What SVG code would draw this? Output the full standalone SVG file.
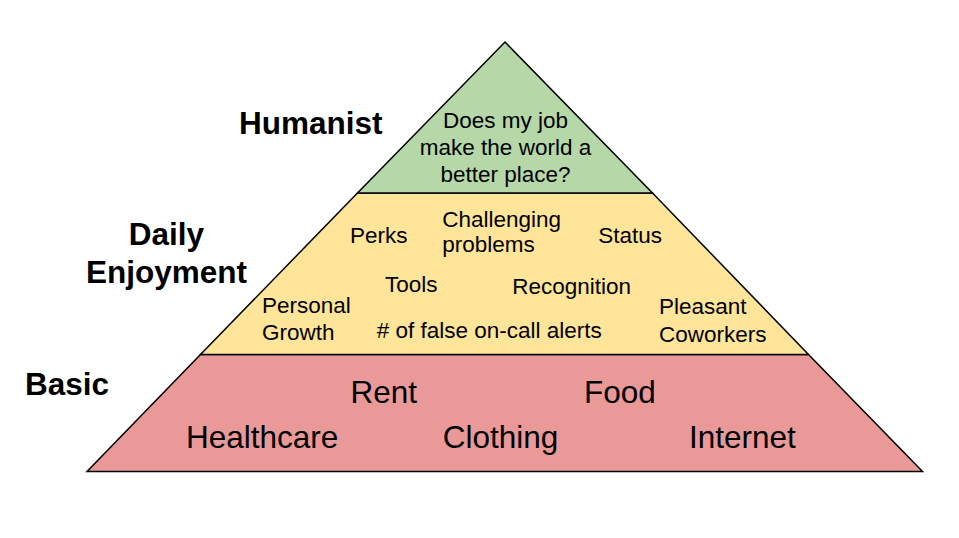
<svg xmlns="http://www.w3.org/2000/svg" width="959" height="538" viewBox="0 0 959 538">
<style>
.lvl{stroke:#000;stroke-width:1.5;stroke-linejoin:miter}
.t{font-family:"Liberation Sans",Arial,sans-serif;fill:#000}
.big{font-size:31.5px}
.mid{font-size:22.5px}
.lab{font-size:31.5px;font-weight:bold}
</style>
<rect width="959" height="538" fill="#fff"/>
<g id="basic">
<polygon class="lvl" points="200.5,354.5 808.5,354.5 922.5,471.5 87,471.5" fill="#ea9999"/>
<text class="t big" x="350.5" y="402.7">Rent</text>
<text class="t big" x="584" y="402.7">Food</text>
<text class="t big" x="186" y="447.7">Healthcare</text>
<text class="t big" x="442.7" y="447.7">Clothing</text>
<text class="t big" x="689" y="447.7">Internet</text>
</g>
<g id="daily">
<polygon class="lvl" points="357.5,193 652.5,193 808.5,354.5 200.5,354.5" fill="#ffe599"/>
<text class="t mid" x="350" y="243.3">Perks</text>
<text class="t mid" x="442.3" y="226.7">Challenging</text>
<text class="t mid" x="442.3" y="251.7">problems</text>
<text class="t mid" x="598.3" y="242.7">Status</text>
<text class="t mid" x="385" y="291.7">Tools</text>
<text class="t mid" x="512.3" y="294.3">Recognition</text>
<text class="t mid" x="262" y="313.3">Personal</text>
<text class="t mid" x="262" y="340">Growth</text>
<text class="t mid" x="376.7" y="338.3"># of false on-call alerts</text>
<text class="t mid" x="659" y="314.3">Pleasant</text>
<text class="t mid" x="659" y="341.7">Coworkers</text>
</g>
<g id="humanist">
<polygon class="lvl" points="505,42 652.5,193 357.5,193" fill="#b6d7a8"/>
<text class="t mid" x="505.5" y="128.3" text-anchor="middle">Does my job</text>
<text class="t mid" x="505.5" y="155" text-anchor="middle">make the world a</text>
<text class="t mid" x="505.5" y="181.7" text-anchor="middle">better place?</text>
</g>
<g id="labels">
<text class="t lab" x="239" y="134">Humanist</text>
<text class="t lab" x="166.5" y="245" text-anchor="middle">Daily</text>
<text class="t lab" x="166.5" y="282.7" text-anchor="middle">Enjoyment</text>
<text class="t lab" x="25" y="395">Basic</text>
</g>
</svg>
